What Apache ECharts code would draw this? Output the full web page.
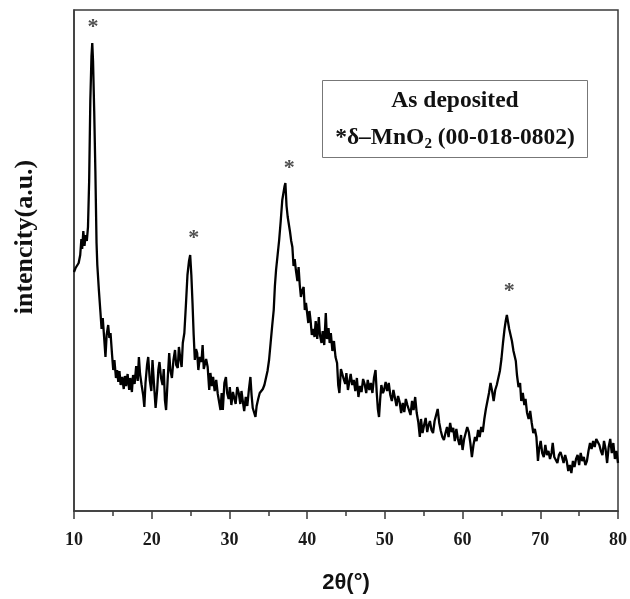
<!DOCTYPE html>
<html>
<head>
<meta charset="utf-8">
<script src="https://cdn.jsdelivr.net/npm/echarts@6/dist/echarts.min.js"></script>
<style>
html,body{margin:0;padding:0;background:#fff;}
#chart{width:630px;height:599px;}
</style>
</head>
<body>
<div id="chart"></div>
<script>
var twoTheta = [10.0,10.2,10.4,10.6,10.8,10.95,11.05,11.2,11.35,11.5,11.65,11.8,11.95,12.1,12.25,12.35,12.45,12.6,12.75,12.9,13.0,13.2,13.4,13.55,13.7,13.9,14.05,14.2,14.4,14.55,14.7,14.9,15.05,15.2,15.4,15.55,15.7,15.85,16.0,16.2,16.4,16.55,16.7,16.9,17.1,17.25,17.45,17.6,17.8,18.0,18.2,18.35,18.5,18.7,18.9,19.05,19.2,19.4,19.55,19.75,19.95,20.1,20.3,20.5,20.7,20.85,21.0,21.2,21.4,21.55,21.7,21.85,22.05,22.25,22.4,22.6,22.8,23.0,23.15,23.35,23.5,23.7,23.85,24.0,24.2,24.4,24.6,24.8,24.95,25.1,25.25,25.4,25.55,25.7,25.85,26.0,26.2,26.4,26.55,26.7,26.85,27.0,27.2,27.4,27.55,27.75,27.9,28.1,28.3,28.5,28.7,28.85,29.0,29.15,29.35,29.55,29.7,29.9,30.05,30.25,30.45,30.6,30.8,31.0,31.2,31.4,31.55,31.7,31.9,32.1,32.3,32.5,32.7,32.85,33.0,33.2,33.35,33.5,33.7,33.9,34.1,34.3,34.5,34.7,34.9,35.1,35.3,35.5,35.7,35.85,36.0,36.2,36.4,36.6,36.8,36.95,37.1,37.2,37.35,37.5,37.65,37.8,37.95,38.1,38.25,38.4,38.55,38.75,38.9,39.05,39.2,39.35,39.55,39.7,39.85,40.0,40.15,40.3,40.45,40.6,40.8,40.95,41.1,41.3,41.5,41.65,41.85,42.0,42.2,42.4,42.55,42.75,42.9,43.05,43.25,43.45,43.65,43.85,44.0,44.15,44.35,44.5,44.7,44.9,45.05,45.25,45.4,45.6,45.8,46.0,46.2,46.4,46.6,46.8,47.0,47.2,47.4,47.6,47.8,48.0,48.2,48.4,48.6,48.8,48.95,49.1,49.25,49.4,49.55,49.75,49.9,50.1,50.3,50.5,50.7,50.9,51.1,51.3,51.5,51.7,51.9,52.1,52.3,52.5,52.7,52.9,53.1,53.3,53.5,53.7,53.9,54.1,54.3,54.5,54.65,54.85,55.05,55.25,55.45,55.6,55.8,56.0,56.2,56.4,56.6,56.8,57.0,57.2,57.4,57.6,57.8,58.0,58.2,58.4,58.6,58.8,59.0,59.2,59.4,59.6,59.8,60.0,60.2,60.4,60.6,60.8,61.0,61.2,61.4,61.6,61.8,62.0,62.2,62.4,62.6,62.8,63.0,63.2,63.4,63.6,63.8,64.0,64.2,64.4,64.6,64.8,65.0,65.2,65.4,65.55,65.7,65.85,66.0,66.2,66.35,66.55,66.7,66.85,67.0,67.2,67.4,67.55,67.75,67.95,68.1,68.3,68.5,68.7,68.9,69.1,69.3,69.5,69.7,69.85,70.05,70.25,70.45,70.65,70.85,71.05,71.25,71.45,71.6,71.8,72.0,72.2,72.4,72.6,72.8,73.0,73.2,73.4,73.6,73.8,74.0,74.2,74.4,74.6,74.8,75.0,75.2,75.4,75.6,75.8,76.0,76.2,76.4,76.6,76.8,77.0,77.2,77.4,77.6,77.8,78.0,78.2,78.4,78.6,78.8,79.0,79.2,79.4,79.6,79.8,80.0];
var intensity = [239,243,241,248,256,272,262,280,265,276,270,284,330,410,455,468,450,400,340,268,246,221,199,182,193,171,154,176,186,173,178,156,141,151,133,141,129,140,126,134,122,135,125,137,121,133,119,136,127,145,130,154,137,126,116,104,128,146,154,131,120,151,126,103,121,141,149,133,126,142,111,101,131,158,141,133,151,161,146,143,164,151,144,168,178,206,236,250,256,236,208,176,151,162,158,141,154,149,166,142,141,152,144,121,138,125,134,120,131,117,118,101,118,101,128,134,118,112,124,106,119,121,107,124,118,107,120,111,100,114,105,121,134,116,103,101,94,105,112,118,117,122,126,124,140,151,168,185,201,225,241,256,271,290,311,318,325,328,305,294,296,279,270,264,245,252,241,230,244,226,214,220,224,201,208,198,188,200,190,176,182,174,190,172,194,176,168,180,166,198,172,183,168,178,160,170,154,148,126,118,142,141,132,127,138,121,128,137,126,131,120,133,114,125,119,132,127,118,131,121,128,118,133,141,119,102,94,112,126,118,121,129,120,128,116,110,121,113,105,115,109,98,108,99,112,106,108,96,110,101,114,98,89,74,92,78,86,93,79,85,90,81,78,90,96,102,88,80,74,71,78,84,74,88,79,83,70,82,72,66,76,61,72,78,84,79,68,54,66,74,70,81,74,84,79,92,102,110,118,128,120,110,121,126,128,140,152,168,182,190,196,189,182,180,170,160,162,150,136,124,128,110,118,106,112,98,92,100,88,78,82,74,50,62,70,58,54,66,56,60,52,58,68,54,52,48,56,59,54,48,56,50,40,46,38,50,44,52,56,46,58,50,54,46,50,60,68,62,70,64,72,74,66,60,56,70,62,48,64,72,58,68,52,60,48];
// peak markers (*) for δ-MnO2
var peakTheta = [12.44, 25.4, 37.7, 66.0];
var peakMarkY = [489, 278, 348, 225];
var xTicks = [10, 20, 30, 40, 50, 60, 70, 80];

var chart = echarts.init(document.getElementById('chart'));
var lineData = twoTheta.map(function (t, i) { return [t, intensity[i]]; });
var markData = peakTheta.map(function (t, i) { return [t, peakMarkY[i]]; });
var serif = '"Liberation Serif", "Times New Roman", serif';

chart.setOption({
  animation: false,
  backgroundColor: '#ffffff',
  grid: {
    left: 74, right: 10, top: 10, bottom: 88,
    show: true, borderColor: '#3a3a3a', borderWidth: 1.5, backgroundColor: 'transparent'
  },
  xAxis: {
    type: 'value', min: xTicks[0], max: xTicks[xTicks.length - 1], interval: 10,
    name: '2θ(°)', nameLocation: 'middle', nameGap: 61,
    nameTextStyle: { fontFamily: '"Liberation Sans", Arial, sans-serif', fontWeight: 'bold', fontSize: 22, color: '#111' },
    axisLine: { show: true, lineStyle: { color: '#3a3a3a', width: 1.5 } },
    axisTick: { show: true, inside: false, length: 8, lineStyle: { color: '#3a3a3a', width: 1.5 } },
    minorTick: { show: true, splitNumber: 2, length: 5, lineStyle: { color: '#3a3a3a', width: 1.5 } },
    splitLine: { show: false },
    axisLabel: { fontFamily: serif, fontWeight: 'bold', fontSize: 18, color: '#1a1a1a', margin: 20 }
  },
  yAxis: {
    type: 'value', min: 0, max: 501,
    axisLine: { show: true, lineStyle: { color: '#3a3a3a', width: 1.5 } },
    axisTick: { show: false }, axisLabel: { show: false }, splitLine: { show: false }
  },
  series: [
    {
      type: 'line', data: lineData, showSymbol: false, symbol: 'none',
      lineStyle: { color: '#000', width: 2.3 }
    },
    {
      type: 'scatter', data: markData, symbolSize: 1,
      itemStyle: { color: 'rgba(0,0,0,0)' },
      label: { show: true, position: 'inside', formatter: '*', fontFamily: serif, fontWeight: 'bold', fontSize: 22, color: '#222', offset: [0, 5] }
    }
  ],
  graphic: [
    {
      type: 'text', x: 25, y: 237, rotation: Math.PI / 2,
      style: { text: 'intencity(a.u.)', font: 'bold 26px ' + serif, fill: '#111', align: 'center', verticalAlign: 'middle' }
    },
    {
      type: 'group', left: 322, top: 80,
      children: [
        { type: 'rect', shape: { x: 0, y: 0, width: 265, height: 77 }, style: { fill: '#fff', stroke: '#777', lineWidth: 1 } },
        { type: 'text', x: 132.5, y: 20, style: { text: 'As deposited', font: 'bold 23.5px ' + serif, fill: '#111', align: 'center', verticalAlign: 'middle' } },
        { type: 'text', x: 132.5, y: 57, style: {
            text: '{a|*δ–MnO}{s|2}{a| (00-018-0802)}',
            align: 'center', verticalAlign: 'middle',
            rich: {
              a: { font: 'bold 23.5px ' + serif, fill: '#111', color: '#111' },
              s: { font: 'bold 15px ' + serif, fill: '#111', color: '#111', padding: [13, 0, 0, 0] }
            }
          } }
      ]
    }
  ]
});
</script>
</body>
</html>
